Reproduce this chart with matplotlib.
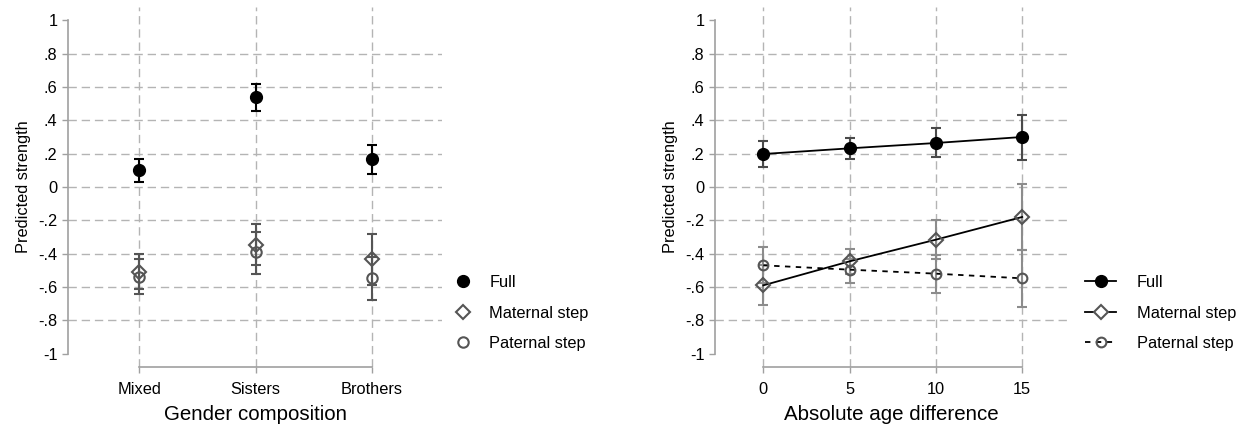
import matplotlib
matplotlib.use("Agg")
import matplotlib.pyplot as plt
from matplotlib.lines import Line2D

plt.rcParams['font.family'] = ['Liberation Sans', 'DejaVu Sans']

# Gender composition panel
groups = ["Mixed", "Sisters", "Brothers"]
full_g = [0.10, 0.538, 0.168]
full_g_lo = [0.03, 0.458, 0.08]
full_g_hi = [0.17, 0.616, 0.254]
mat_g = [-0.51, -0.348, -0.434]
mat_g_lo = [-0.61, -0.47, -0.588]
mat_g_hi = [-0.40, -0.22, -0.28]
pat_g = [-0.54, -0.392, -0.548]
pat_g_lo = [-0.64, -0.522, -0.676]
pat_g_hi = [-0.43, -0.268, -0.42]

# Age difference panel
ages = [0, 5, 10, 15]
full_a = [0.198, 0.232, 0.264, 0.30]
full_a_lo = [0.118, 0.17, 0.178, 0.164]
full_a_hi = [0.278, 0.296, 0.354, 0.432]
mat_a = [-0.59, -0.446, -0.316, -0.18]
mat_a_lo = [-0.71, -0.52, -0.432, -0.376]
mat_a_hi = [-0.47, -0.372, -0.196, 0.018]
pat_a = [-0.47, -0.496, -0.52, -0.548]
pat_a_lo = [-0.578, -0.578, -0.636, -0.72]
pat_a_hi = [-0.362, -0.432, -0.41, -0.376]

yticks = [1, 0.8, 0.6, 0.4, 0.2, 0, -0.2, -0.4, -0.6, -0.8, -1]
ytick_labels = ["1", ".8", ".6", ".4", ".2", "0", "-.2", "-.4", "-.6", "-.8", "-1"]
series_names = ["Full", "Maternal step", "Paternal step"]

GRID = "#b4b4b4"
AXC = "#a0a0a0"
DARK = "#555555"
CI_LIGHT = "#8c8c8c"


def err(v, lo, hi):
    return [[a - b for a, b in zip(v, lo)], [c - a for a, c in zip(v, hi)]]


def style_axes(ax, xticks, xlabels, xlabel):
    ax.set_ylim(-1.08, 1.08)
    for s in ["top", "right"]:
        ax.spines[s].set_visible(False)
    ax.spines["left"].set_bounds(-1, 1)
    ax.spines["bottom"].set_bounds(xticks[0], xticks[-1])
    for s in ["left", "bottom"]:
        ax.spines[s].set_color(AXC)
        ax.spines[s].set_linewidth(1.2)
        ax.spines[s].set_zorder(5)
    ax.set_yticks(yticks)
    ax.set_yticklabels(ytick_labels)
    ax.set_xticks(xticks)
    ax.set_xticklabels(xlabels)
    ax.tick_params(axis="both", colors=AXC, labelcolor="black", labelsize=11.8,
                   length=4.5, width=1.0)
    ax.tick_params(axis="y", pad=3)
    ax.tick_params(axis="x", pad=6)
    # grid lines
    for y in yticks[1:-1]:
        ax.axhline(y, color=GRID, lw=1.0, dashes=(6, 3.5), zorder=0)
    for x in xticks:
        ax.axvline(x, color=GRID, lw=1.0, dashes=(6, 3.5), zorder=0)
    ax.set_ylabel("Predicted strength", fontsize=11.8, labelpad=5)
    ax.set_xlabel(xlabel, fontsize=14.8, labelpad=6)


fig = plt.figure(figsize=(12.5, 4.3), dpi=100)
ax1 = fig.add_axes([68 / 1250, 1 - 367 / 430, 374 / 1250, 360 / 430])
ax2 = fig.add_axes([715 / 1250, 1 - 367 / 430, 352 / 1250, 360 / 430])

# left panel
xg = [1, 2, 3]
ax1.errorbar(xg, full_g, yerr=err(full_g, full_g_lo, full_g_hi), fmt="none",
             ecolor="black", elinewidth=1.5, capsize=3.5, capthick=1.5, zorder=2)
ax1.errorbar(xg, mat_g, yerr=err(mat_g, mat_g_lo, mat_g_hi), fmt="none",
             ecolor=DARK, elinewidth=1.5, capsize=3.5, capthick=1.5, zorder=2)
ax1.errorbar(xg, pat_g, yerr=err(pat_g, pat_g_lo, pat_g_hi), fmt="none",
             ecolor=DARK, elinewidth=1.5, capsize=3.5, capthick=1.5, zorder=2)
ax1.plot(xg, full_g, "o", color="black", ms=8.5, zorder=3)
ax1.plot(xg, mat_g, "D", mfc="none", mec=DARK, mew=1.5, ms=7.5, zorder=3)
ax1.plot(xg, pat_g, "o", mfc="none", mec=DARK, mew=1.5, ms=7.5, zorder=3)
ax1.set_xlim(0.39, 3.6)
style_axes(ax1, xg, groups, "Gender composition")

handles1 = [
    Line2D([], [], ls="none", marker="o", color="black", ms=8.5),
    Line2D([], [], ls="none", marker="D", mfc="none", mec=DARK, mew=1.5, ms=7.5),
    Line2D([], [], ls="none", marker="o", mfc="none", mec=DARK, mew=1.5, ms=7.5),
]
ax1.legend(handles1, series_names, loc="center left", bbox_to_anchor=(1.037, 0.15),
           frameon=False, fontsize=11.8, handlelength=0.9, handletextpad=1.15,
           labelspacing=0.95, borderpad=0, borderaxespad=0)

# right panel
ax2.errorbar(ages, full_a, yerr=err(full_a, full_a_lo, full_a_hi), fmt="none",
             ecolor="#4a4a4a", elinewidth=1.5, capsize=3.5, capthick=1.5, zorder=2)
ax2.errorbar(ages, mat_a, yerr=err(mat_a, mat_a_lo, mat_a_hi), fmt="none",
             ecolor=CI_LIGHT, elinewidth=1.5, capsize=3.5, capthick=1.5, zorder=2)
ax2.errorbar(ages, pat_a, yerr=err(pat_a, pat_a_lo, pat_a_hi), fmt="none",
             ecolor=CI_LIGHT, elinewidth=1.5, capsize=3.5, capthick=1.5, zorder=2)
ax2.plot(ages, full_a, "-o", color="black", lw=1.3, ms=8.5, zorder=3)
ax2.plot(ages, mat_a, "-", color="black", lw=1.3, zorder=3)
ax2.plot(ages, mat_a, "D", mfc="none", mec=DARK, mew=1.5, ms=7.5, zorder=4)
ax2.plot(ages, pat_a, color="black", lw=1.3, dashes=(3, 3), zorder=3)
ax2.plot(ages, pat_a, "o", mfc="none", mec=DARK, mew=1.5, ms=7, zorder=4)
ax2.set_xlim(-2.8, 17.6)
style_axes(ax2, ages, [str(a) for a in ages], "Absolute age difference")

handles2 = [
    Line2D([], [], color="black", lw=1.3, marker="o", ms=8.5),
    Line2D([], [], color="black", lw=1.3, marker="D", mfc="white", mec=DARK, mew=1.5, ms=7.5),
    Line2D([], [], color="black", lw=1.3, dashes=(3, 3), marker="o", mfc="none",
           mec=DARK, mew=1.5, ms=7),
]
ax2.legend(handles2, series_names, loc="center left", bbox_to_anchor=(1.051, 0.15),
           frameon=False, fontsize=11.8, handlelength=1.9, handletextpad=1.25,
           labelspacing=0.95, borderpad=0, borderaxespad=0)

fig.savefig("out.png", dpi=100)
